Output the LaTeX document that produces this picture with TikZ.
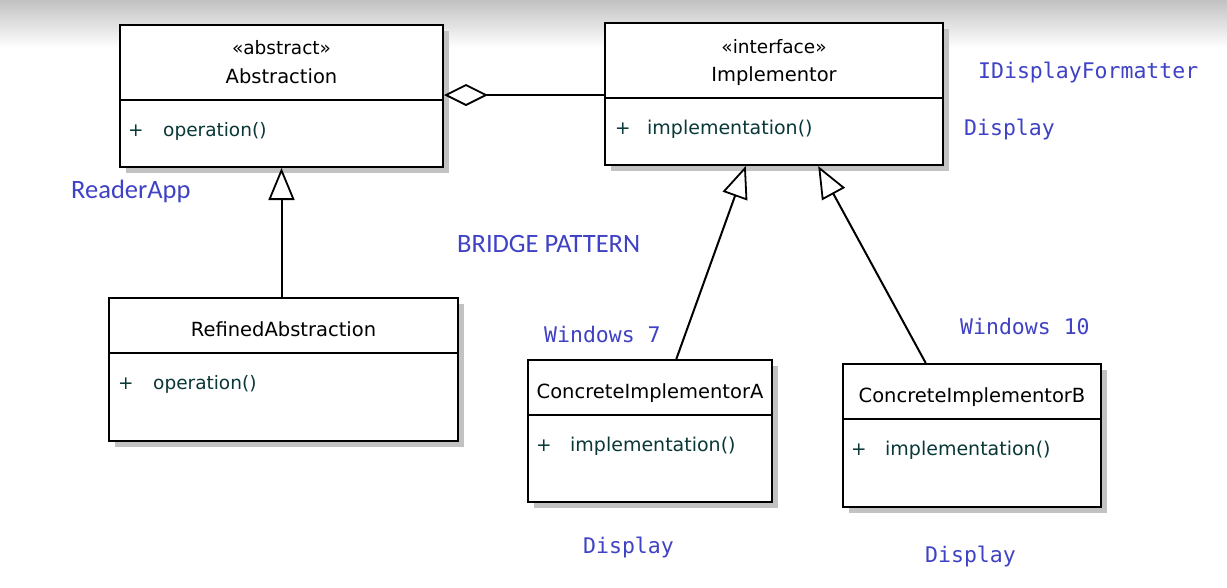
\documentclass[tikz,border=0pt]{standalone}
\usepackage{fontspec}
\setmainfont{DejaVu Sans}
\newfontfamily\monofont{DejaVu Sans Mono}
\newfontfamily\calfont{Carlito}
\usetikzlibrary{arrows.meta,shadows,calc}
\definecolor{noteblue}{RGB}{63,66,196}
\definecolor{membercol}{RGB}{10,55,55}
\begin{document}
\begin{tikzpicture}[x=1pt,y=-1pt,
 umlbox/.style={draw=black, line width=2pt, fill=white, rectangle, inner sep=0pt, anchor=north west,
   drop shadow={shadow xshift=6pt, shadow yshift=-6pt, fill=black!24, opacity=1}},
 divider/.style={line width=2pt},
 headtxt/.style={font=\fontsize{19.5}{22}\selectfont, inner sep=0pt, anchor=base},
 stereo/.style={font=\fontsize{18.5}{22}\selectfont, inner sep=0pt, anchor=base},
 member/.style={font=\fontsize{18.5}{20}\selectfont, text=membercol, inner sep=0pt, anchor=base west},
 note/.style={font=\monofont\fontsize{21.5}{24}\selectfont, text=noteblue, inner sep=0pt, anchor=base west},
 calnote/.style={font=\calfont\fontsize{26.5}{30}\selectfont, text=noteblue, inner sep=0pt, anchor=base west},
 gen/.style={line width=2pt, -{Triangle[open, length=32pt, width=26pt, line width=1.8pt]}},
 agg/.style={line width=2pt, {Diamond[open, length=44pt, width=22pt, line width=1.8pt]}-},
]
\useasboundingbox (0,0) rectangle (1227,587);
\fill[white] (0,0) rectangle (1227,587);
\shade[top color=black!24, bottom color=white] (0,0) rectangle (1227,48);

% boxes
\node[umlbox, minimum width=323pt, minimum height=142pt] (abs) at (119,24) {};
\node[umlbox, minimum width=338pt, minimum height=142pt] (impl) at (604,22) {};
\node[umlbox, minimum width=349pt, minimum height=143pt] (ref) at (108,297) {};
\node[umlbox, minimum width=244pt, minimum height=142pt] (cia) at (527,359) {};
\node[umlbox, minimum width=258pt, minimum height=143pt] (cib) at (842,363) {};

% dividers
\draw[divider] (abs.west |- 0,100) -- (abs.east |- 0,100);
\draw[divider] (impl.west |- 0,98) -- (impl.east |- 0,98);
\draw[divider] (ref.west |- 0,353) -- (ref.east |- 0,353);
\draw[divider] (cia.west |- 0,415) -- (cia.east |- 0,415);
\draw[divider] (cib.west |- 0,419) -- (cib.east |- 0,419);

% header texts
\node[stereo] (absst) at (abs.north |- 0,54) {«abstract»};
\node[headtxt] (absnm) at (abs.north |- 0,83) {Abstraction};
\node[stereo] (implst) at (impl.north |- 0,53) {«interface»};
\node[headtxt] (implnm) at (impl.north |- 0,81) {Implementor};
\node[headtxt] (refnm) at (ref.north |- 0,336) {RefinedAbstraction};
\node[headtxt] (cianm) at (cia.north |- 0,398) {ConcreteImplementorA};
\node[headtxt] (cibnm) at (cib.north |- 0,402) {ConcreteImplementorB};

% members
\node[member] (absp) at (128,136) {+};
\node[member] (absop) at (163,136) {operation()};
\node[member] (implp) at (615,134) {+};
\node[member, font=\fontsize{19}{22}\selectfont] (implop) at (647,134) {implementation()};
\node[member] (refp) at (118,389) {+};
\node[member] (refop) at (153,389) {operation()};
\node[member] (ciap) at (536,451) {+};
\node[member, font=\fontsize{19}{22}\selectfont] (ciaop) at (570,451) {implementation()};
\node[member] (cibp) at (851,455) {+};
\node[member, font=\fontsize{19}{22}\selectfont] (cibop) at (885,455) {implementation()};

% connectors
\draw[agg] (abs.east |- 0,95) -- (impl.west |- 0,95);
\draw[gen] (abs.south |- ref.north) -- (abs.south);
\coordinate (ciatop) at ($(cia.north west)!0.607!(cia.north east)$);
\coordinate (cibtop) at ($(cib.north west)!0.322!(cib.north east)$);
\coordinate (impla) at ($(impl.south west)!0.417!(impl.south east)$);
\coordinate (implb) at ($(impl.south west)!0.630!(impl.south east)$);
\draw[gen] (ciatop) -- (impla);
\draw[gen] (cibtop) -- (implb);

% notes
\node[note] (n1) at (978,78) {IDisplayFormatter};
\node[note] (n2) at (964,135) {Display};
\node[calnote] (n3) at (71,198) {ReaderApp};
\node[calnote] (n4) at (457,252) {BRIDGE PATTERN};
\node[note] (n5) at (544,342) {Windows 7};
\node[note] (n6) at (960,334) {Windows 10};
\node[note] (n7) at (583,553) {Display};
\node[note] (n8) at (925,562) {Display};
\end{tikzpicture}
\end{document}
